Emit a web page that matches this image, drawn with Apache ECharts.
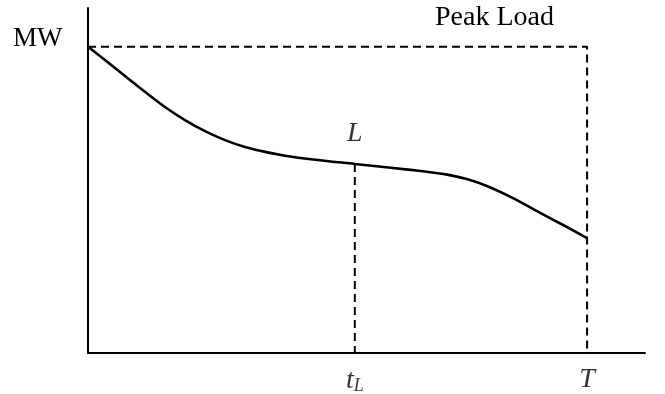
<!DOCTYPE html>
<html>
<head>
<meta charset="utf-8">
<script src="https://cdn.jsdelivr.net/npm/echarts@6/dist/echarts.min.js"></script>
<style>html,body{margin:0;padding:0;background:#fff}#c{width:665px;height:394px}</style>
</head>
<body>
<div id="c"></div>
<script>
// Load duration curve (time axis 0..100, MW axis 0..100)
var timeVals = [0, 3.05, 6.64, 10.23, 13.82, 17.41, 21.0, 24.6, 28.2, 31.8, 35.4, 40.4, 47.9, 58.3, 64.5, 68.0, 71.6, 76.3, 81.1, 85.3, 89.6];
var loadVals = [88.8, 84.9, 80.3, 75.7, 71.3, 67.5, 64.3, 61.7, 59.7, 58.3, 57.2, 56.1, 54.8, 53.0, 51.7, 50.4, 48.4, 44.9, 40.7, 37.1, 33.3];
var peakLoad = 88.8;
var tL = 47.9, loadAtTL = 54.8;
var tEnd = 89.6;

var curve = timeVals.map(function (t, i) { return [t, loadVals[i]]; });
var serif = 'Liberation Serif';

var chart = echarts.init(document.getElementById('c'), null, {renderer: 'canvas'});
chart.setOption({
  animation: false,
  backgroundColor: '#fff',
  grid: {left: 88, right: 20, top: 8, bottom: 41},
  xAxis: {
    type: 'value', min: 0, max: 100,
    axisLine: {show: true, onZero: false, lineStyle: {color: '#000', width: 2}},
    axisTick: {show: false}, axisLabel: {show: false}, splitLine: {show: false}
  },
  yAxis: {
    type: 'value', min: 0, max: 100,
    axisLine: {show: true, onZero: false, lineStyle: {color: '#000', width: 2}},
    axisTick: {show: false}, axisLabel: {show: false}, splitLine: {show: false}
  },
  graphic: [
    {type: 'text', left: 13, top: 25, style: {text: 'MW', font: '27px "' + serif + '"', fill: '#000'}},
    {type: 'text', left: 435, top: 4, style: {text: 'Peak Load', font: '28px "' + serif + '"', fill: '#000'}}
  ],
  series: [
    {
      type: 'line', data: [[0, peakLoad], [tEnd, peakLoad], [tEnd, 0]],
      symbol: 'none', lineStyle: {color: '#000', width: 2, type: [8, 5]}, silent: true, z: 1
    },
    {
      type: 'line', data: [[tL, loadAtTL], [tL, 0]],
      symbol: 'none', lineStyle: {color: '#000', width: 2, type: [8, 5]}, silent: true, z: 1
    },
    {
      type: 'line', data: curve, smooth: 0.3,
      symbol: 'none', lineStyle: {color: '#000', width: 2.6}, silent: true, z: 3
    },
    {
      type: 'scatter', symbolSize: 0, silent: true,
      data: [
        {value: [tL, loadAtTL], label: {show: true, position: 'top', distance: 16, formatter: 'L',
          fontFamily: serif, fontStyle: 'italic', fontSize: 28, color: '#000'}},
        {value: [tL, 0], label: {show: true, position: 'bottom', distance: 13, formatter: '{t|t}{s|L}',
          rich: {t: {fontFamily: serif, fontStyle: 'italic', fontSize: 28, color: '#000'},
                 s: {fontFamily: serif, fontStyle: 'italic', fontSize: 18, color: '#000', padding: [11, 0, 0, 0]}}}},
        {value: [tEnd, 0], label: {show: true, position: 'bottom', distance: 13, formatter: 'T',
          fontFamily: serif, fontStyle: 'italic', fontSize: 28, color: '#000'}}
      ]
    }
  ]
});
</script>
</body>
</html>
